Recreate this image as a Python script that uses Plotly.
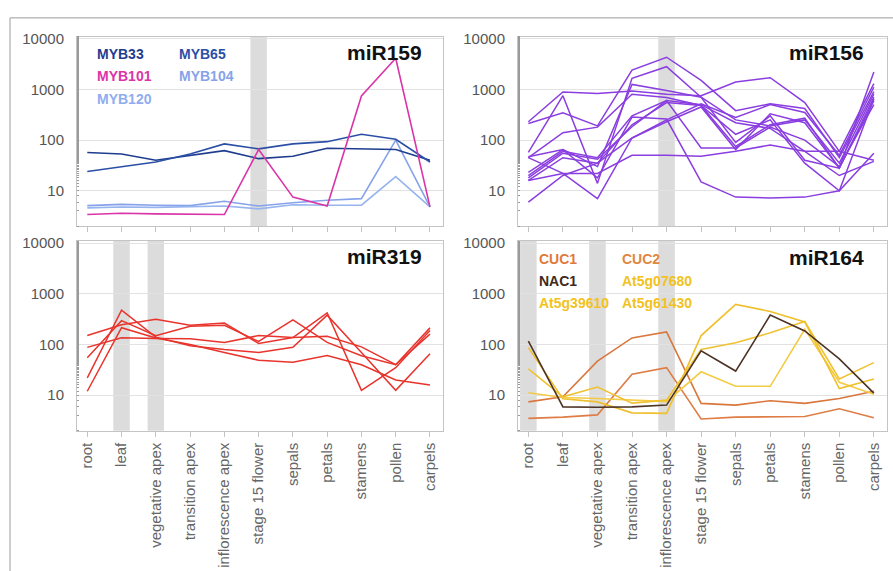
import plotly.graph_objects as go

# ---------------- data ----------------
TISSUES = ["root", "leaf", "vegetative apex", "transition apex", "inflorescence apex",
           "stage 15 flower", "sepals", "petals", "stamens", "pollen", "carpels"]

# miR159 targets
MYB33 = [57, 53, 40, 50, 62, 43, 48, 69, 67, 65, 40]
MYB65 = [24, 30, 37, 53, 84, 67, 84, 93, 130, 104, 37]
MYB101 = [3.4, 3.6, 3.5, 3.4, 3.4, 65, 7.5, 5.0, 740, 4100, 4.8]
MYB104 = [5.1, 5.4, 5.2, 5.1, 6.2, 5.0, 5.8, 6.5, 7.0, 100, 4.8]
MYB120 = [4.6, 4.8, 4.7, 4.8, 5.0, 4.4, 5.3, 5.2, 5.2, 19, 4.8]

# miR156 targets
SPL_A = [230, 890, 830, 930, 800, 750, 1400, 1700, 550, 60, 1300]
SPL_B = [213, 345, 190, 2400, 4300, 1500, 380, 520, 420, 45, 900]
SPL_C = [57, 750, 14, 1650, 2800, 700, 90, 300, 40, 28, 2200]
SPL_D = [45, 22, 7, 110, 250, 520, 280, 500, 350, 50, 1100]
SPL_E = [47, 65, 30, 1250, 950, 700, 250, 190, 250, 35, 800]
SPL_F = [45, 140, 180, 800, 690, 480, 75, 200, 270, 28, 600]
SPL_G = [23, 65, 18, 285, 260, 15, 7.5, 7.2, 7.5, 10, 55]
SPL_H = [18, 55, 42, 183, 600, 70, 70, 180, 100, 30, 500]
SPL_I = [16, 22, 22, 50, 50, 48, 60, 80, 60, 60, 40]
SPL_J = [6, 20, 35, 110, 230, 450, 65, 330, 220, 28, 700]
SPL_K = [20, 60, 45, 300, 600, 500, 220, 170, 60, 20, 38]
SPL_L = [16, 45, 35, 200, 550, 480, 130, 250, 35, 10, 650]

# miR319 targets
TCP_A = [151, 245, 316, 240, 265, 105, 137, 420, 12.5, 35, 190]
TCP_B = [88, 136, 132, 130, 110, 150, 137, 146, 90, 40, 160]
TCP_C = [55, 296, 150, 230, 240, 115, 305, 110, 60, 40, 213]
TCP_D = [22, 476, 140, 95, 80, 70, 88, 380, 70, 12.5, 66]
TCP_E = [12, 215, 135, 100, 70, 49, 45, 61, 40, 20, 16]

# miR164 targets
CUC1 = [7.4, 9.3, 47, 135, 177, 6.9, 6.4, 7.8, 6.9, 8.6, 12]
CUC2 = [3.5, 3.7, 4.1, 26, 35, 3.4, 3.7, 3.8, 3.8, 5.4, 3.6]
NAC1 = [117, 5.9, 5.8, 5.9, 6.4, 75, 30, 380, 185, 52, 11]
AT5G07680 = [87, 8.5, 7.4, 4.5, 4.4, 150, 620, 450, 280, 13.5, 21]
AT5G39610 = [33, 9.3, 14.5, 7.0, 8.0, 80, 108, 170, 285, 21, 44]
AT5G61430 = [11.2, 9.0, 8.6, 8.0, 7.5, 29, 15, 15, 200, 18, 10.5]

Y_TICKS = [10, 100, 1000, 10000]
Y_TICKTEXT = ["10", "100", "1000", "10000"]

BANDS_159 = ["stage 15 flower"]
BANDS_156 = ["inflorescence apex"]
BANDS_319 = ["leaf", "vegetative apex"]
BANDS_164 = ["root", "vegetative apex", "inflorescence apex"]

# ---------------- layout helpers ----------------
W, H = 893, 571
FONT = "Liberation Sans, Arial, Helvetica, sans-serif"


def px(x):
    return x / W


def py(y):
    return 1 - y / H


fig = go.Figure()

panels = {
    # name: (xaxis id, yaxis id, x domain px, y domain px)
    "tl": ("x", "y", (77, 443), (30, 222)),
    "tr": ("x2", "y2", (518, 887), (30, 222)),
    "bl": ("x3", "y3", (77, 443), (237, 429)),
    "br": ("x4", "y4", (518, 887), (237, 429)),
}


def add_lines(panel, series, colors, width=1.6):
    xa, ya = panels[panel][0], panels[panel][1]
    for vals, col in zip(series, colors):
        fig.add_trace(go.Scatter(x=TISSUES, y=vals, mode="lines",
                                 line=dict(color=col, width=width),
                                 xaxis=xa, yaxis=ya, showlegend=False,
                                 hoverinfo="skip"))


add_lines("tl", [MYB104, MYB120, MYB33, MYB65, MYB101],
          ["#86a3ea", "#97b4ef", "#1f3d8f", "#2c4fa6", "#d935a8"])
purple = "#8a3ee0"
add_lines("tr", [SPL_A, SPL_B, SPL_C, SPL_D, SPL_E, SPL_F, SPL_G, SPL_H,
                 SPL_I, SPL_J, SPL_K, SPL_L], [purple] * 12, width=1.5)
red = "#e8342c"
add_lines("bl", [TCP_A, TCP_B, TCP_C, TCP_D, TCP_E], [red] * 5, width=1.5)
add_lines("br", [CUC2, CUC1, AT5G61430, AT5G39610, AT5G07680, NAC1],
          ["#de7d45", "#d9773c", "#f3cb45", "#f0c232", "#efc02c", "#4d3426"])

layout = dict(
    width=W, height=H,
    margin=dict(l=0, r=0, t=0, b=0),
    paper_bgcolor="white", plot_bgcolor="white",
    font=dict(family=FONT),
    showlegend=False,
)

for key, (xa, ya, xd, yd) in panels.items():
    xname = "xaxis" + xa[1:]
    yname = "yaxis" + ya[1:]
    bottom = key in ("bl", "br")
    layout[xname] = dict(
        domain=[px(xd[0]), px(xd[1])], anchor=ya,
        type="category", categoryorder="array", categoryarray=TISSUES,
        range=[-0.3, 10.38],
        showgrid=False, zeroline=False,
        showline=True, linecolor="#c4c4c4", mirror=True,
        ticks="outside", ticklen=5, tickcolor="#c4c4c4",
        showticklabels=bottom, tickangle=-90,
        tickfont=dict(size=15, color="#666666", family=FONT),
    )
    layout[yname] = dict(
        domain=[py(yd[1]), py(yd[0])], anchor=xa,
        type="log", range=[0.3, 4.04],
        tickvals=Y_TICKS, ticktext=Y_TICKTEXT,
        showgrid=True, gridcolor="#e2e2e2", gridwidth=1,
        zeroline=False, showline=True, linecolor="#c4c4c4", mirror=True,
        ticks="", ticklabelstandoff=9,
        tickfont=dict(size=15, color="#555555", family=FONT),
        minor=dict(ticks="inside", ticklen=2, tickcolor="#9a9a9a", showgrid=False),
    )

fig.update_layout(**layout)

# grey highlight bands
shapes = []


def add_bands(panel, names):
    xa, ya = panels[panel][0], panels[panel][1]
    for n in names:
        i = TISSUES.index(n)
        shapes.append(dict(type="rect", xref=xa, yref=ya + " domain",
                           x0=i - 0.24, x1=i + 0.24, y0=0, y1=1,
                           fillcolor="#dcdcdc", line=dict(width=0), layer="below"))


add_bands("tl", BANDS_159)
add_bands("tr", BANDS_156)
add_bands("bl", BANDS_319)
add_bands("br", BANDS_164)

# outer frame
shapes.append(dict(type="line", xref="paper", yref="paper",
                   x0=px(10), x1=1, y0=py(11), y1=py(11),
                   line=dict(color="#9c9c9c", width=1)))
shapes.append(dict(type="line", xref="paper", yref="paper",
                   x0=px(10), x1=px(10), y0=py(11), y1=0,
                   line=dict(color="#9c9c9c", width=1)))
fig.update_layout(shapes=shapes)

# annotations: titles and legend labels
ann = []


def text(t, x, y, color, size=14, anchor="left"):
    ann.append(dict(text="<b>%s</b>" % t, xref="paper", yref="paper",
                    x=px(x), y=py(y), xanchor=anchor, yanchor="middle",
                    showarrow=False, font=dict(size=size, color=color, family=FONT)))


text("miR159", 424, 46, "#111111", size=21, anchor="right")
text("miR156", 866, 46, "#111111", size=21, anchor="right")
text("miR319", 424, 253, "#111111", size=21, anchor="right")
text("miR164", 866, 254, "#111111", size=21, anchor="right")

text("MYB33", 95, 48, "#1f3d8f")
text("MYB65", 177, 48, "#2c4fa6")
text("MYB101", 95, 70, "#d935a8")
text("MYB104", 177, 70, "#86a3ea")
text("MYB120", 95, 93, "#8fadee")

text("CUC1", 537, 255, "#e07a3c")
text("CUC2", 620, 255, "#e0873f")
text("NAC1", 537, 277, "#3e2a1e")
text("At5g07680", 620, 277, "#f2c21e")
text("At5g39610", 537, 300, "#f2c21e")
text("At5g61430", 620, 300, "#f2c21e")

fig.update_layout(annotations=ann)

fig.write_html("out.html")
